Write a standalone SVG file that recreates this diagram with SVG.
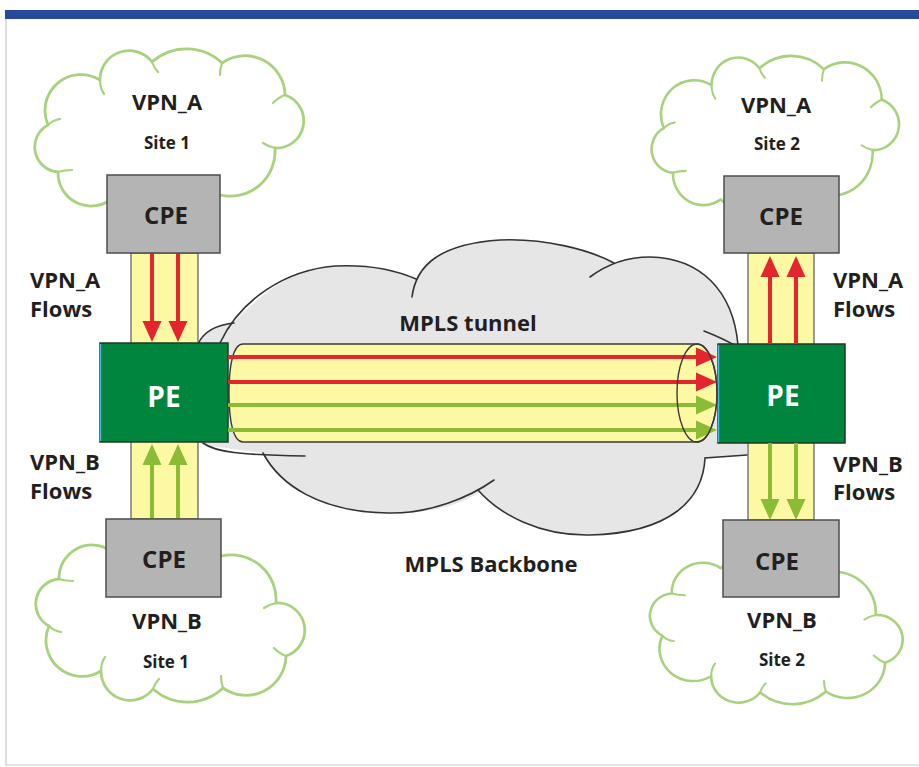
<svg xmlns="http://www.w3.org/2000/svg" width="919" height="767" viewBox="0 0 919 767">
<style>
.lbl{font-family:"Open Sans","Noto Sans","Liberation Sans",sans-serif;font-weight:700;fill:#231f20}
.big{font-size:22px}
.site{font-size:17px}
.cpe{font-size:24px}
.pe{font-size:28px;fill:#ffffff}
.cloud{fill:#ffffff;stroke:#a9d27e;stroke-width:2.8;stroke-linejoin:round}
.tail{fill:none;stroke:#a9d27e;stroke-width:2.2;stroke-linecap:round}
.box{fill:#b4b4b4;stroke:#4d4d4d;stroke-width:1.5}
.pebox{fill:#00853f;stroke:#1d3b26;stroke-width:1.5}
.band{fill:#fdf8a3;stroke:#5a5a5a;stroke-width:1.2}
.red{stroke:#e3262e;stroke-width:4;fill:none}
.grn{stroke:#8cbb35;stroke-width:4;fill:none}
.outl{fill:none;stroke:#333333;stroke-width:1.6;stroke-linecap:round}
</style>
<defs>
<marker id="ar" markerUnits="userSpaceOnUse" markerWidth="24" markerHeight="20" viewBox="0 -10 24 20" refX="1" refY="0" orient="auto">
<path d="M0,-9.5 L21,0 L0,9.5 Z" fill="#e3262e"/>
</marker>
<marker id="ag" markerUnits="userSpaceOnUse" markerWidth="24" markerHeight="20" viewBox="0 -10 24 20" refX="1" refY="0" orient="auto">
<path d="M0,-9.5 L21,0 L0,9.5 Z" fill="#8cbb35"/>
</marker>
<path id="cl" d="M -112,44 A25,25 0 0 1 -122,-3 A36,36 0 0 1 -70,-48 A29,29 0 0 1 -18,-66 A52,52 0 0 1 52,-65 A40,40 0 0 1 115,-33 A27.2,27.2 0 0 1 105,20 A45,45 0 0 1 50,67 A80,80 0 0 1 -60,72 A33,33 0 0 1 -112,44 Z"/>
<path id="tails" d="M -112,44 q 6,-2 14,-2 M -122,-3 q 5,-5 12,-6 M -70,-48 q 0,8 4,14 M -18,-66 q 2,6 6,10 M 52,-65 q -2,6 -2,12 M 115,-33 q -6,2 -12,8 M 105,20 q -6,-1 -12,-5"/>
</defs>
<rect width="919" height="767" fill="#ffffff"/>
<rect x="5" y="10" width="914" height="9" fill="#27499b"/>
<path d="M6,19 V765 H919" fill="none" stroke="#c8c8c8" stroke-width="1.2"/>

<g id="cloud-vpna-site1"><g transform="translate(170,128)"><use href="#cl" class="cloud"/><use href="#tails" class="tail"/></g></g>
<g id="cloud-vpna-site2"><g transform="translate(776,131) scale(0.92,0.95)"><use href="#cl" class="cloud"/><use href="#tails" class="tail"/></g></g>
<g id="cloud-vpnb-site1"><g transform="translate(171,623) scale(1,-1)"><use href="#cl" class="cloud"/><use href="#tails" class="tail"/></g></g>
<g id="cloud-vpnb-site2"><g transform="translate(777,633) scale(0.94,-0.9)"><use href="#cl" class="cloud"/><use href="#tails" class="tail"/></g></g>

<g id="mpls-backbone">
<path d="M 198,344 Q 206,326 232,324 C 262,292 295,268 335,266 C 375,264 400,272 415,280 C 425,258 450,244 500,240 C 545,238 590,250 613,263 C 630,257 640,257 650,257 C 700,258 733,290 738,345 L 747,345 L 747,455 L 705,458 C 703,500 670,533 590,535 C 540,536 500,515 480,492 C 460,505 430,514 388,513 C 320,512 280,485 263,453 L 210,446 L 200,443 Z" fill="#e6e6e6"/>
<path class="outl" d="M 198,344 Q 206,326 234,323"/>
<path class="outl" d="M 220,343 C 240,300 285,270 335,266 C 375,264 400,272 416,279"/>
<path class="outl" d="M 412,297 C 416,265 440,244 500,240 C 545,238 590,250 614,263"/>
<path class="outl" d="M 590,277 C 610,262 630,257 650,257 C 700,258 733,290 738,345"/>
<path class="outl" d="M 704,331 Q 722,338 736,346"/>
<path class="outl" d="M 747,455 L 705,458 C 703,500 670,533 590,535 C 540,536 500,515 478,490"/>
<path class="outl" d="M 494,480 C 470,497 430,514 388,513 C 320,512 280,485 263,453"/>
<path class="outl" d="M 203,443 C 215,452 240,455 305,456"/>
<text class="lbl big" x="468" y="331" text-anchor="middle">MPLS tunnel</text>
<text class="lbl big" x="491" y="572" text-anchor="middle">MPLS Backbone</text>
</g>

<g id="bands">
<rect class="band" x="131" y="253" width="67" height="266"/>
<rect class="band" x="748" y="253" width="66" height="267"/>
</g>

<g id="mpls-tunnel">
<path d="M 243,344 L 697,344 A 20,49 0 0 1 697,442 L 243,442 C 233,442 229,420 229,393 C 229,366 233,344 243,344 Z" fill="#fdf8a3" stroke="#3a3a3a" stroke-width="1.4"/>
</g>

<g id="pe-left">
<rect class="pebox" x="100" y="343" width="128" height="99"/>
<line x1="100.5" y1="344" x2="100.5" y2="441" stroke="#4fb3d9" stroke-width="1.5"/>
<text class="lbl pe" x="164" y="407" text-anchor="middle">PE</text>
</g>
<g id="pe-right">
<rect class="pebox" x="718" y="344" width="127" height="99"/>
<line x1="718.5" y1="345" x2="718.5" y2="442" stroke="#4fb3d9" stroke-width="1.5"/>
<text class="lbl pe" x="783" y="406" text-anchor="middle">PE</text>
</g>

<g id="connectors">
<line class="red" x1="152" y1="253" x2="152" y2="322" marker-end="url(#ar)"/>
<line class="red" x1="178" y1="253" x2="178" y2="322" marker-end="url(#ar)"/>
<line class="grn" x1="152" y1="519" x2="152" y2="464" marker-end="url(#ag)"/>
<line class="grn" x1="178" y1="519" x2="178" y2="464" marker-end="url(#ag)"/>
<line class="red" x1="770" y1="344" x2="770" y2="276" marker-end="url(#ar)"/>
<line class="red" x1="796" y1="344" x2="796" y2="276" marker-end="url(#ar)"/>
<line class="grn" x1="770" y1="443" x2="770" y2="500" marker-end="url(#ag)"/>
<line class="grn" x1="796" y1="443" x2="796" y2="500" marker-end="url(#ag)"/>
<line class="red" x1="228" y1="357" x2="697" y2="357" marker-end="url(#ar)"/>
<line class="red" x1="228" y1="382" x2="697" y2="382" marker-end="url(#ar)"/>
<line class="grn" x1="228" y1="405" x2="697" y2="405" marker-end="url(#ag)"/>
<line class="grn" x1="228" y1="430" x2="697" y2="430" marker-end="url(#ag)"/>
<ellipse cx="697" cy="393" rx="20" ry="49" fill="none" stroke="#3a3a3a" stroke-width="1.4"/>
</g>

<g id="cpe-a1">
<rect class="box" x="107" y="175" width="113" height="78"/>
<text class="lbl cpe" x="166" y="224" text-anchor="middle">CPE</text>
</g>
<g id="cpe-a2">
<rect class="box" x="724" y="176" width="115" height="77"/>
<text class="lbl cpe" x="781" y="225" text-anchor="middle">CPE</text>
</g>
<g id="cpe-b1">
<rect class="box" x="106" y="519" width="115" height="78"/>
<text class="lbl cpe" x="164" y="568" text-anchor="middle">CPE</text>
</g>
<g id="cpe-b2">
<rect class="box" x="723" y="520" width="116" height="77"/>
<text class="lbl cpe" x="777" y="570" text-anchor="middle">CPE</text>
</g>

<g id="labels">
<text class="lbl big" x="167" y="110" text-anchor="middle">VPN_A</text>
<text class="lbl site" x="167" y="149" text-anchor="middle">Site 1</text>
<text class="lbl big" x="776" y="113" text-anchor="middle">VPN_A</text>
<text class="lbl site" x="777" y="150" text-anchor="middle">Site 2</text>
<text class="lbl big" x="167" y="629" text-anchor="middle">VPN_B</text>
<text class="lbl site" x="166" y="668" text-anchor="middle">Site 1</text>
<text class="lbl big" x="782" y="628" text-anchor="middle">VPN_B</text>
<text class="lbl site" x="782" y="666" text-anchor="middle">Site 2</text>
<text class="lbl big" x="30" y="288">VPN_A</text>
<text class="lbl big" x="30" y="317">Flows</text>
<text class="lbl big" x="30" y="470">VPN_B</text>
<text class="lbl big" x="30" y="499">Flows</text>
<text class="lbl big" x="833" y="288">VPN_A</text>
<text class="lbl big" x="833" y="317">Flows</text>
<text class="lbl big" x="833" y="472">VPN_B</text>
<text class="lbl big" x="833" y="500">Flows</text>
</g>
</svg>
